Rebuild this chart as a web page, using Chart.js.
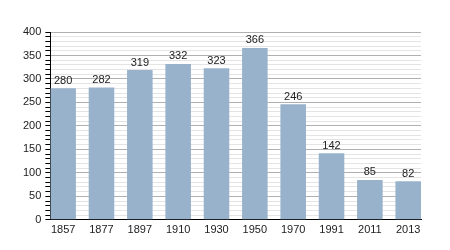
<!DOCTYPE html>
<html>
<head>
<meta charset="utf-8">
<script src="https://cdn.jsdelivr.net/npm/chart.js@4"></script>
<style>
  html, body { margin: 0; padding: 0; background: #fff; }
  #wrap { width: 450px; height: 250px; }
</style>
</head>
<body>
<div id="wrap"><canvas id="chart"></canvas></div>
<script>
const years = ["1857", "1877", "1897", "1910", "1930", "1950", "1970", "1991", "2011", "2013"];
const population = [280, 282, 319, 332, 323, 366, 246, 142, 85, 82];

// bars sit flush with both ends of the axis, so use an index-based linear x scale
const BAR_FRACTION = 0.667;
const points = population.map((v, i) => ({ x: i, y: v }));

// values above each bar
const barLabels = {
  id: "barLabels",
  afterDatasetsDraw(chart) {
    const ctx = chart.ctx;
    const meta = chart.getDatasetMeta(0);
    ctx.save();
    ctx.font = "11px 'Liberation Sans', Arial, sans-serif";
    ctx.fillStyle = "#222";
    ctx.textAlign = "center";
    ctx.textBaseline = "bottom";
    meta.data.forEach((bar, i) => {
      ctx.fillText(population[i], bar.x, bar.y - 2);
    });
    ctx.restore();
  },
};

new Chart(document.getElementById("chart"), {
  type: "bar",
  data: {
    datasets: [{
      data: points,
      backgroundColor: "#99b2cc",
      barPercentage: BAR_FRACTION,
      categoryPercentage: 1,
    }],
  },
  options: {
    responsive: true,
    maintainAspectRatio: false,
    animation: false,
    layout: { padding: { top: 32, right: 29, left: 19, bottom: 9 } },
    plugins: { legend: { display: false }, tooltip: { enabled: false } },
    scales: {
      x: {
        type: "linear",
        offset: false,
        min: -BAR_FRACTION / 2,
        max: years.length - 1 + BAR_FRACTION / 2,
        grid: { display: false, drawTicks: false, offset: false },
        border: { color: "#000", width: 1 },
        ticks: {
          stepSize: 1,
          includeBounds: false,
          color: "#222",
          font: { family: "'Liberation Sans', Arial, sans-serif", size: 11 },
          maxRotation: 0,
          padding: 4,
          callback: (v) => years[v],
        },
      },
      y: {
        min: 0,
        max: 400,
        border: { color: "#000", width: 1 },
        grid: {
          color: (c) => (c.tick && c.tick.value % 50 === 0 ? "#b0b0b0" : "#e4e4e4"),
          tickColor: "#000",
          tickLength: 5,
        },
        ticks: {
          stepSize: 10,
          autoSkip: false,
          color: "#222",
          font: { family: "'Liberation Sans', Arial, sans-serif", size: 11 },
          padding: 4,
          callback: (v) => (v % 50 === 0 ? v : ""),
        },
      },
    },
  },
  plugins: [barLabels],
});
</script>
</body>
</html>
